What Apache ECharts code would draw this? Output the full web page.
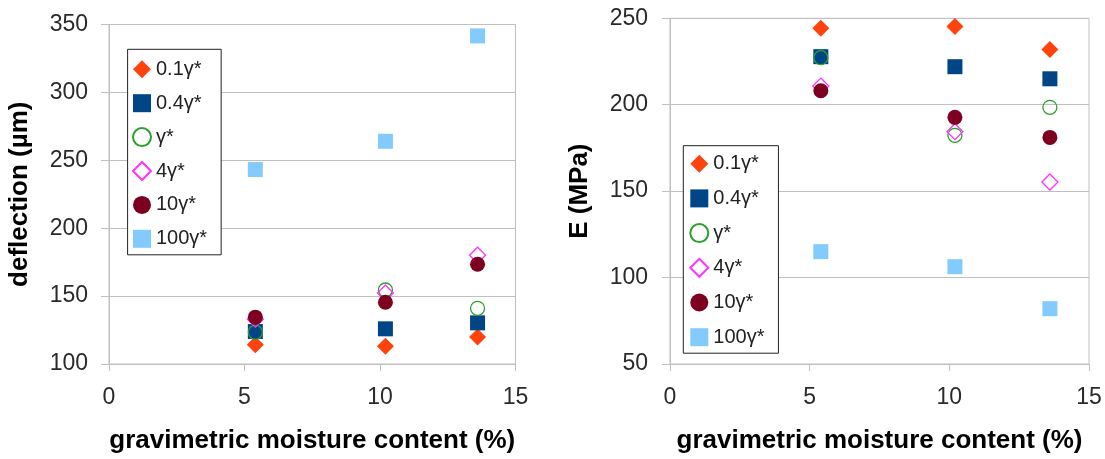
<!DOCTYPE html>
<html>
<head>
<meta charset="utf-8">
<script src="https://cdn.jsdelivr.net/npm/echarts@6/dist/echarts.min.js"></script>
<style>
html,body{margin:0;padding:0;background:#fff;}
#chart{width:1105px;height:459px;}
</style>
</head>
<body>
<div id="chart"></div>
<script>
// ---- data ----
var moisture = [5.4, 10.2, 13.6];
var seriesNames = ['0.1γ*', '0.4γ*', 'γ*', '4γ*', '10γ*', '100γ*'];
// deflection (µm)
var defl01 = [114.2, 113, 119.8];
var defl04 = [123.9, 125.9, 130.3];
var defl1 = [123.4, 154.5, 141];
var defl4 = [133, 152.3, 180.1];
var defl10 = [134.5, 145.5, 173.5];
var defl100 = [243.2, 264, 341.6];
// E (MPa)
var mod01 = [244.2, 245.2, 232];
var mod04 = [227.8, 222, 215];
var mod1 = [227.2, 182.3, 198.5];
var mod4 = [210.8, 184.4, 155.3];
var mod10 = [208.1, 192.7, 181.1];
var mod100 = [115, 106.3, 82];
var xTicks = [0, 5, 10, 15];

var FONT = 'Liberation Sans, Arial, sans-serif';
var styles = [
  {symbol: 'diamond', size: 17, color: '#ff420e'},
  {symbol: 'rect', size: 15, color: '#004586'},
  {symbol: 'circle', size: 14, color: '#2e9e2e', hollow: true},
  {symbol: 'diamond', size: 16, color: '#ff33ff', hollow: true},
  {symbol: 'circle', size: 15, color: '#7e0021'},
  {symbol: 'rect', size: 15, color: '#83caff'}
];
var leftData = [defl01, defl04, defl1, defl4, defl10, defl100];
var rightData = [mod01, mod04, mod1, mod4, mod10, mod100];

function pts(vals) {
  return moisture.map(function (x, i) { return [x, vals[i]]; });
}
var series = [];
[leftData, rightData].forEach(function (set, gi) {
  set.forEach(function (vals, si) {
    var st = styles[si];
    var it = st.hollow
      ? {color: 'rgba(0,0,0,0)', borderColor: st.color, borderWidth: 1.3, opacity: 1}
      : {color: st.color, opacity: 1};
    series.push({
      type: 'scatter', name: seriesNames[si],
      xAxisIndex: gi, yAxisIndex: gi,
      symbol: st.symbol, symbolSize: st.size,
      itemStyle: it, data: pts(vals),
      emphasis: {disabled: true}, animation: false
    });
  });
});

function xAx(gi) {
  return {
    gridIndex: gi, type: 'value', min: xTicks[0], max: xTicks[xTicks.length - 1], interval: 5,
    name: 'gravimetric moisture content (%)', nameLocation: 'middle', nameGap: 64,
    nameTextStyle: {fontFamily: FONT, fontSize: 26, fontWeight: 'bold', color: '#000'},
    axisLine: {show: true, lineStyle: {color: '#c0c0c0', width: 1}},
    axisTick: {show: true, length: 7, lineStyle: {color: '#c0c0c0'}},
    axisLabel: {fontFamily: FONT, fontSize: 23, color: '#2a2a2a', margin: 22},
    splitLine: {show: false}
  };
}
function yAx(gi, min, max, name, gap, margin) {
  return {
    gridIndex: gi, type: 'value', min: min, max: max, interval: 50,
    name: name, nameLocation: 'middle', nameGap: gap,
    nameTextStyle: {fontFamily: FONT, fontSize: 26, fontWeight: 'bold', color: '#000'},
    axisLine: {show: true, lineStyle: {color: '#c0c0c0', width: 1}},
    axisTick: {show: true, length: 8, lineStyle: {color: '#c0c0c0'}},
    axisLabel: {fontFamily: FONT, fontSize: 23, color: '#2a2a2a', margin: margin},
    splitLine: {show: true, lineStyle: {color: '#c0c0c0', width: 1}}
  };
}
function legend(left, top, padding, gap) {
  return {
    orient: 'vertical', left: left, top: top, padding: padding, itemGap: gap,
    itemWidth: 18, itemHeight: 18,
    backgroundColor: '#fff', borderColor: '#222', borderWidth: 1,
    textStyle: {fontFamily: FONT, fontSize: 20, color: '#222', lineHeight: 18},
    data: seriesNames, selectedMode: false
  };
}

var chart = echarts.init(document.getElementById('chart'), null, {renderer: 'canvas'});
chart.setOption({
  animation: false,
  backgroundColor: '#fff',
  grid: [
    {left: 109, top: 24.5, right: 589.5, bottom: 94, show: true, borderColor: '#c0c0c0', borderWidth: 1, containLabel: false},
    {left: 670, top: 18.3, right: 16, bottom: 95, show: true, borderColor: '#c0c0c0', borderWidth: 1, containLabel: false}
  ],
  xAxis: [xAx(0), xAx(1)],
  yAxis: [yAx(0, 100, 350, 'deflection (µm)', 76, 21), yAx(1, 50, 250, 'E (MPa)', 77, 22)],
  legend: [legend(127.6, 49.3, [10, 14, 6, 4.4], 13.9), legend(683.3, 145.7, [8, 14, 6, 6], 14.7)],
  series: series
});
</script>
</body>
</html>
